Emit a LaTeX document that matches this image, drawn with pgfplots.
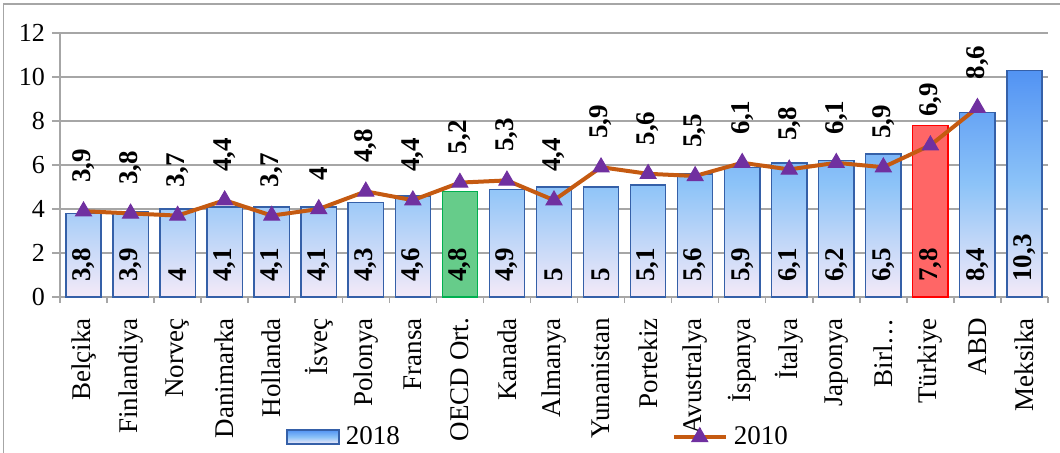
\documentclass[border=0pt]{standalone}
\usepackage{fontspec}
\setmainfont{Liberation Serif}
\usepackage{pgfplots}
\usepackage{pgfplotstable}
\pgfplotsset{compat=1.18}

\definecolor{gridgray}{HTML}{A6A6A6}
\definecolor{barEdge}{HTML}{3560A8}
\definecolor{barTop}{HTML}{5293F3}
\definecolor{barMid}{HTML}{8CC3F8}
\definecolor{barBot}{HTML}{F4EAF8}
\definecolor{oecdFill}{HTML}{66CC8A}
\definecolor{oecdEdge}{HTML}{00B050}
\definecolor{trFill}{HTML}{FF6666}
\definecolor{trEdge}{HTML}{FF0000}
\definecolor{lineTen}{HTML}{C55A11}
\definecolor{markTen}{HTML}{7030A0}

\pgfplotsset{
  barlegendimg/.style={legend image code/.code={\draw[##1] (0pt,-3.5pt) rectangle (26pt,3.5pt);}},
  linelegendimg/.style={legend image code/.code={\draw[##1, mark repeat=2, mark phase=2]
    plot coordinates {(0pt,0pt) (13pt,0pt) (26pt,0pt)};}},
}

% 2018 values, one row per country (index = position on the x axis)
\pgfplotstableread{
idx v2018
0  3.8
1  3.9
2  4
3  4.1
4  4.1
5  4.1
6  4.3
7  4.6
8  4.8
9  4.9
10 5
11 5
12 5.1
13 5.6
14 5.9
15 6.1
16 6.2
17 6.5
18 7.8
19 8.4
20 10.3
}\rateEighteen

% 2010 values (no value for Meksika)
\pgfplotstableread{
idx v2010
0  3.9
1  3.8
2  3.7
3  4.4
4  3.7
5  4
6  4.8
7  4.4
8  5.2
9  5.3
10 4.4
11 5.9
12 5.6
13 5.5
14 6.1
15 5.8
16 6.1
17 5.9
18 6.9
19 8.6
}\rateTen

\begin{document}
\begin{tikzpicture}
\path[use as bounding box] (-30pt,-77.5pt) rectangle (500pt,148.5pt);
\draw[gridgray, line width=0.75pt] (-28.25pt,-90pt) -- (-28.25pt,146.5pt) -- (520pt,146.5pt);
\begin{axis}[
  anchor=south west, at={(0pt,0pt)},
  scale only axis, width=494pt, height=132pt,
  xmin=-0.5, xmax=20.5, ymin=0, ymax=12,
  ytick={0,2,...,12},
  xtick={0,...,20},
  xticklabels={Belçika, Finlandiya, Norveç, Danimarka, Hollanda, İsveç, Polonya, Fransa, OECD Ort., Kanada, Almanya, Yunanistan, Portekiz, Avustralya, İspanya, İtalya, Japonya, Birl…, Türkiye, ABD, Meksika},
  minor xtick={-0.5,0.5,...,20.5},
  major x tick style={draw=none},
  minor x tick style={gridgray, line width=0.75pt},
  minor tick length=3pt,
  major tick length=4pt,
  tick align=outside,
  ytick style={gridgray, line width=0.75pt},
  axis x line*=bottom, axis y line*=left,
  axis line style={gridgray, line width=0.75pt},
  ymajorgrids,
  major grid style={gridgray, line width=0.75pt},
  xticklabel style={rotate=90, anchor=east, font=\fontsize{13.5}{15}\selectfont},
  xticklabel shift=3pt,
  yticklabel style={font=\fontsize{13}{15}\selectfont},
  /pgf/number format/.cd, use comma, assume math mode=true,
  /pgfplots/.cd,
  legend columns=2,
  legend style={at={(0.2287,-0.5303)}, anchor=west, draw=none, fill=none,
    inner sep=0pt, font=\fontsize{13.5}{15}\selectfont,
    /tikz/every odd column/.append style={column sep=1pt},
    /tikz/every even column/.append style={column sep=134pt}},
]
% 2018 bars, blue gradient
\addplot[ybar, bar width=0.75, bar shift=0pt, draw=barEdge, line width=0.7pt,
  top color=barTop, bottom color=barBot, middle color=barMid,
  x filter/.expression={or(x==8,x==18) ? nan : x},
  barlegendimg]
  table[x=idx, y=v2018] {\rateEighteen};
\addlegendentry{2018}
% OECD average, green
\addplot[ybar, bar width=0.75, bar shift=0pt, draw=oecdEdge, line width=0.7pt,
  fill=oecdFill, forget plot,
  x filter/.expression={x==8 ? x : nan}]
  table[x=idx, y=v2018] {\rateEighteen};
% Türkiye, red
\addplot[ybar, bar width=0.75, bar shift=0pt, draw=trEdge, line width=0.7pt,
  fill=trFill, forget plot,
  x filter/.expression={x==18 ? x : nan}]
  table[x=idx, y=v2018] {\rateEighteen};
% 2018 values written at the base of each bar
\addplot[draw=none, mark=none, forget plot,
  nodes near coords, point meta=\thisrow{v2018},
  every node near coord/.style={yshift=7.5pt, rotate=90, anchor=west,
    inner sep=0pt, font=\fontsize{13.5}{15}\selectfont\bfseries, black}]
  table[x=idx, y expr=0] {\rateEighteen};
% 2010 line
\addplot[lineTen, line width=2pt, mark=triangle*, mark size=4.6pt,
  mark options={draw=markTen, fill=markTen, solid, line width=0.5pt},
  nodes near coords, point meta=y,
  every node near coord/.style={yshift=14pt, rotate=90, anchor=west,
    inner sep=0pt, font=\fontsize{13.5}{15}\selectfont\bfseries, black},
  linelegendimg]
  table[x=idx, y=v2010] {\rateTen};
\addlegendentry{2010}
\end{axis}
\end{tikzpicture}
\end{document}
